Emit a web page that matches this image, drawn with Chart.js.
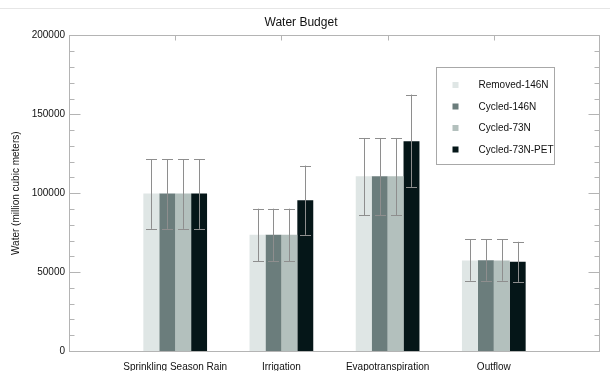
<!DOCTYPE html>
<html>
<head>
<meta charset="utf-8">
<script src="https://cdn.jsdelivr.net/npm/chart.js@4/dist/chart.umd.min.js"></script>
<style>
  html, body { margin: 0; padding: 0; background: #fff; }
  #wrap { width: 610px; height: 371px; position: relative; }
</style>
</head>
<body>
<div id="wrap"><canvas id="chart"></canvas></div>
<script>
// Chart data
const categories = ['Sprinkling Season Rain', 'Irrigation', 'Evapotranspiration', 'Outflow'];
const seriesNames = ['Removed-146N', 'Cycled-146N', 'Cycled-73N', 'Cycled-73N-PET'];
const seriesColors = ['#dfe6e5', '#6b7d7c', '#b3c0bd', '#051618'];

const removed146 = [99800, 73600, 110800, 57300];
const cycled146  = [99800, 73600, 110800, 57500];
const cycled73   = [99800, 73600, 110800, 57300];
const cycled73pet = [99800, 95600, 133000, 56500];

const removed146Err = [[77400, 121500], [57000, 90200], [86000, 135000], [44500, 70800]];
const cycled146Err  = [[77400, 121500], [57000, 90200], [86000, 135000], [44500, 70800]];
const cycled73Err   = [[77400, 121500], [57000, 90200], [86000, 135000], [44500, 70800]];
const cycled73petErr = [[77400, 121500], [73600, 117500], [104000, 162500], [43800, 69200]];

const yTicks = [0, 50000, 100000, 150000, 200000];
const yMinorStep = 10000;

const FONT = "'Liberation Sans', Arial, Helvetica, sans-serif";

// empty slot on each side of the groups
const labels = [''].concat(categories, ['']);
const pad = arr => [null].concat(arr, [null]);

const values = [removed146, cycled146, cycled73, cycled73pet];
const errors = [removed146Err, cycled146Err, cycled73Err, cycled73petErr];

const datasets = seriesNames.map((name, i) => ({
  label: name,
  data: pad(values[i]),
  errors: pad(errors[i]),
  backgroundColor: seriesColors[i],
  borderWidth: 0,
  categoryPercentage: 0.6,
  barPercentage: 1.0
}));

// frame, inner tick marks, error bars and the floating legend
const decor = {
  id: 'decor',
  beforeDraw(chart) {
    const ctx = chart.ctx;
    ctx.save();
    ctx.strokeStyle = '#e6e6e6';
    ctx.lineWidth = 1;
    ctx.beginPath();
    ctx.moveTo(0, 8.5);
    ctx.lineTo(chart.width, 8.5);
    ctx.stroke();
    ctx.restore();
  },
  afterDatasetsDraw(chart) {
    const ctx = chart.ctx;
    const ys = chart.scales.y;
    ctx.save();
    ctx.strokeStyle = '#8e8e8e';
    ctx.lineWidth = 1;
    chart.data.datasets.forEach((ds, di) => {
      const meta = chart.getDatasetMeta(di);
      meta.data.forEach((bar, i) => {
        const e = ds.errors[i];
        if (!e) return;
        const x = Math.round(bar.x) + 0.5;
        const lo = ys.getPixelForValue(e[0]);
        const hi = ys.getPixelForValue(e[1]);
        const cap = 5.5;
        ctx.beginPath();
        ctx.moveTo(x, lo); ctx.lineTo(x, hi);
        ctx.moveTo(x - cap, Math.round(lo) + 0.5); ctx.lineTo(x + cap, Math.round(lo) + 0.5);
        ctx.moveTo(x - cap, Math.round(hi) + 0.5); ctx.lineTo(x + cap, Math.round(hi) + 0.5);
        ctx.stroke();
      });
    });
    ctx.restore();
  },
  afterDraw(chart) {
    const ctx = chart.ctx;
    const a = chart.chartArea;
    const ys = chart.scales.y;
    const xs = chart.scales.x;
    ctx.save();
    ctx.strokeStyle = '#b4b4b4';
    ctx.lineWidth = 1;
    const L = Math.round(a.left) + 0.5, R = Math.round(a.right) - 0.5;
    const T = Math.round(a.top) + 0.5, B = Math.round(a.bottom) + 0.5;
    ctx.strokeRect(L, T, R - L, B - T);
    ctx.beginPath();
    for (let v = ys.min; v <= ys.max; v += yMinorStep) {
      const y = Math.round(ys.getPixelForValue(v)) + 0.5;
      const len = yTicks.includes(v) ? 11 : 5;
      ctx.moveTo(L, y); ctx.lineTo(L + len, y);
      ctx.moveTo(R, y); ctx.lineTo(R - len, y);
    }
    for (let i = 1; i < labels.length - 1; i++) {
      const x = Math.round(xs.getPixelForValue(i)) + 0.5;
      ctx.moveTo(x, T); ctx.lineTo(x, T + 5);
    }
    ctx.stroke();

    // legend box
    const bx = Math.round(a.right - 164) + 0.5;
    const by = Math.round(a.top + 32) + 0.5;
    ctx.strokeStyle = '#a8a8a8';
    ctx.strokeRect(bx, by, 118, 97);
    ctx.font = '10px ' + FONT;
    ctx.textBaseline = 'middle';
    chart.data.datasets.forEach((ds, i) => {
      const cy = by + 18 + i * 21.5;
      ctx.fillStyle = ds.backgroundColor;
      ctx.fillRect(bx + 16, cy - 3.5, 6, 6);
      ctx.fillStyle = '#111';
      ctx.fillText(ds.label, bx + 42, cy);
    });
    ctx.restore();
  }
};

new Chart(document.getElementById('chart'), {
  type: 'bar',
  data: { labels: labels, datasets: datasets },
  plugins: [decor],
  options: {
    responsive: true,
    maintainAspectRatio: false,
    animation: false,
    layout: { padding: { left: 0, right: 8, top: 0, bottom: 0 } },
    plugins: {
      legend: { display: false },
      tooltip: { enabled: false },
      title: {
        display: true,
        text: 'Water Budget',
        color: '#111',
        font: { family: FONT, size: 12, weight: 'normal' },
        padding: { top: 15, bottom: 6 }
      }
    },
    scales: {
      x: {
        offset: false,
        grid: { display: false, drawTicks: false },
        border: { display: false },
        ticks: {
          color: '#111',
          font: { family: FONT, size: 10 },
          padding: 10,
          maxRotation: 0,
          autoSkip: false
        },
        afterFit(scale) { scale.height = 20; }
      },
      y: {
        min: 0,
        max: 200000,
        grid: { display: false, drawTicks: false },
        border: { display: false },
        afterBuildTicks(scale) { scale.ticks = yTicks.map(v => ({ value: v })); },
        ticks: {
          color: '#111',
          font: { family: FONT, size: 10 },
          padding: 4,
          callback: v => String(v)
        },
        title: {
          display: true,
          text: 'Water (million cubic meters)',
          color: '#111',
          font: { family: FONT, size: 10 },
          padding: { top: 10, bottom: 0 }
        },
        afterFit(scale) { scale.width = 69; }
      }
    }
  }
});
</script>
</body>
</html>
